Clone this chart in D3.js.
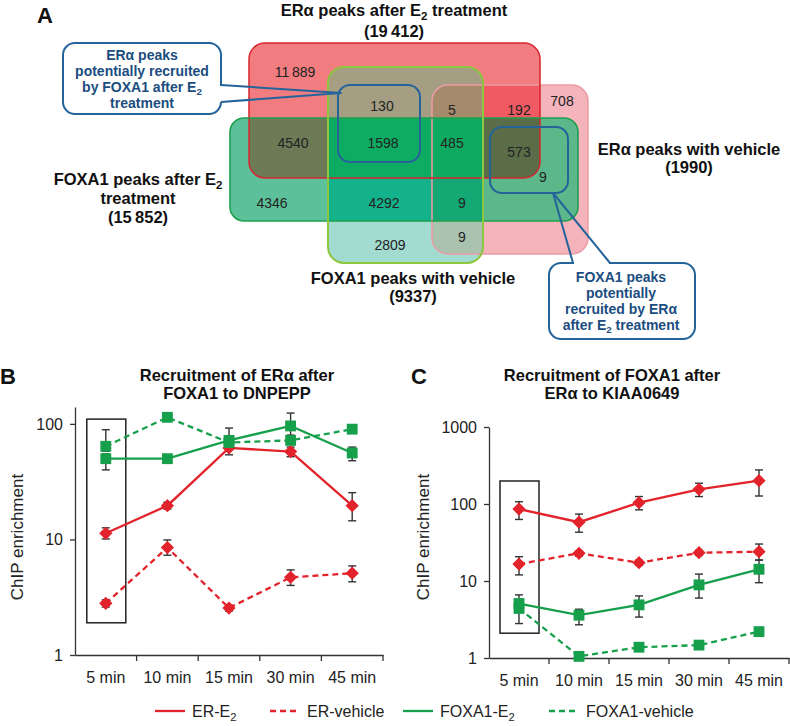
<!DOCTYPE html>
<html>
<head>
<meta charset="utf-8">
<script src="https://cdn.jsdelivr.net/npm/d3@7"></script>
<style>
  body { margin: 0; background: #fff; }
  svg { font-family: "Liberation Sans", Arial, sans-serif; }
</style>
</head>
<body>
<script>
// ---- data ----
var times = ['5 min', '10 min', '15 min', '30 min', '45 min'];
var seriesNames = ['ER-E_2', 'ER-vehicle', 'FOXA1-E_2', 'FOXA1-vehicle'];

// panel B: recruitment of ERa after FOXA1 to DNPEPP
var bErE2 = [11.3, 19.6, 62, 57.6, 19.6];
var bErE2Lo = [10.1, 18.3, 54, 52, 14.5];
var bErE2Hi = [12.6, 21, 66, 63, 25.4];
var bErVeh = [2.8, 8.5, 2.55, 4.7, 5.1];
var bErVehLo = [2.6, 7.3, 2.4, 4.0, 4.3];
var bErVehHi = [3.0, 9.9, 2.7, 5.45, 5.9];
var bFoxE2 = [50, 50, 72, 96, 56];
var bFoxE2Lo = [40, 48, 60, 80, 48];
var bFoxE2Hi = [55, 52, 92, 124, 63];
var bFoxVeh = [64, 114, 69, 72, 90];
var bFoxVehLo = [58, 110, 66, 69, 87];
var bFoxVehHi = [89, 118, 72, 75, 94];

// panel C: recruitment of FOXA1 after ERa to KIAA0649
var cErE2 = [86, 58, 104, 155, 201];
var cErE2Lo = [63, 43, 84, 125, 127];
var cErE2Hi = [107, 74, 125, 186, 277];
var cErVeh = [16.6, 22.9, 17.3, 23.3, 24];
var cErVehLo = [12, 21, 16, 21.5, 18.7];
var cErVehHi = [20.7, 24.5, 18.5, 25, 30.2];
var cFoxE2 = [5.1, 3.6, 4.9, 8.9, 14.2];
var cFoxE2Lo = [2.8, 2.7, 3.4, 6.0, 9.5];
var cFoxE2Hi = [6.6, 4.3, 6.4, 12.3, 18.7];
var cFoxVeh = [4.4, 1.05, 1.38, 1.47, 2.2];

// panel A: Venn counts
var vennSetNames = ['ERα peaks after E_2 treatment', 'FOXA1 peaks after E_2 treatment', 'FOXA1 peaks with vehicle', 'ERα peaks with vehicle'];
var vennSetTotals = [19412, 15852, 9337, 1990];
var vennRegionCounts = [11889, 130, 5, 192, 708, 4540, 1598, 485, 573, 9, 4346, 4292, 9, 2809, 9];

// ---- layout ----
var vennLabelPos = [[295, 72], [382, 106], [452, 110], [519, 110], [562, 101], [293, 143], [383, 143],
  [452, 143], [519, 152], [543, 177], [272, 203], [384, 203], [462, 203], [390, 245], [462, 237]];
var vennRects = {
  pink: { x: 432, y: 85, w: 156, h: 169, r: 16 },
  red: { x: 249, y: 43, w: 291, h: 135, r: 16 },
  lg: { x: 328, y: 67, w: 155, h: 196, r: 16 },
  dg: { x: 230, y: 118, w: 348, h: 103, r: 14 }
};
var red = '#e3232b', green = '#17a04c', blue = '#24649b', axisCol = '#333';

var svg = d3.select('body').append('svg').attr('width', 790).attr('height', 726);

function fmtCount(n) {
  return n >= 10000 ? d3.format(',')(n).replace(',', '\u2009') : String(n);
}

// text with "_2" subscripts
function richText(sel, str, fs) {
  var parts = str.split('_2');
  parts.forEach(function(p, i) {
    if (i > 0) {
      sel.append('tspan').attr('dy', fs * 0.22).style('font-size', (fs * 0.7) + 'px').text('2');
      sel.append('tspan').attr('dy', -fs * 0.22).text(p);
    } else {
      sel.append('tspan').text(p);
    }
  });
  return sel;
}

function addText(g, str, x, y, fs, weight, anchor, fill) {
  var t = g.append('text').attr('x', x).attr('y', y)
    .style('font-size', fs + 'px').style('font-weight', weight || 'normal')
    .attr('text-anchor', anchor || 'middle').attr('fill', fill || '#111');
  return richText(t, str, fs);
}

// ---- panel letters ----
addText(svg, 'A', 37, 23, 22, 'bold', 'start');
addText(svg, 'B', 0, 384, 22, 'bold', 'start');
addText(svg, 'C', 411, 384, 22, 'bold', 'start');

// ---- panel A : Venn ----
var venn = svg.append('g');
var defs = svg.append('defs');
Object.keys(vennRects).forEach(function(k) {
  var r = vennRects[k];
  defs.append('clipPath').attr('id', 'clip-' + k).append('rect')
    .attr('x', r.x).attr('y', r.y).attr('width', r.w).attr('height', r.h).attr('rx', r.r);
});

function paintRegion(base, clips, color) {
  var g = venn;
  clips.forEach(function(c) { g = g.append('g').attr('clip-path', 'url(#clip-' + c + ')'); });
  var r = vennRects[base];
  g.append('rect').attr('x', r.x).attr('y', r.y).attr('width', r.w).attr('height', r.h)
    .attr('rx', r.r).attr('fill', color);
}

paintRegion('pink', [], '#f5b4bb');
paintRegion('red', [], '#f27d80');
paintRegion('pink', ['red'], '#ef5a63');
paintRegion('lg', [], '#a2dbd0');
paintRegion('lg', ['red'], '#a59e83');
paintRegion('lg', ['pink'], '#a9c3ae');
paintRegion('lg', ['red', 'pink'], '#a58a6c');
paintRegion('dg', [], '#5cc09a');
paintRegion('dg', ['red'], '#6c7a55');
paintRegion('dg', ['pink'], '#5cb88a');
paintRegion('dg', ['red', 'pink'], '#5b6c48');
paintRegion('dg', ['lg'], '#13b28a');
paintRegion('dg', ['lg', 'red'], '#0eac62');
paintRegion('dg', ['lg', 'pink'], '#14a874');
paintRegion('dg', ['lg', 'red', 'pink'], '#0eaa60');

var strokes = [['pink', '#ee9aa4', 1.5], ['red', '#d9252e', 1.5], ['dg', '#1ea04e', 1.6], ['lg', '#8dc63f', 2]];
strokes.forEach(function(s) {
  var r = vennRects[s[0]];
  venn.append('rect').attr('x', r.x).attr('y', r.y).attr('width', r.w).attr('height', r.h)
    .attr('rx', r.r).attr('fill', 'none').attr('stroke', s[1]).attr('stroke-width', s[2]);
});

venn.selectAll('text.count').data(vennRegionCounts).enter().append('text')
  .attr('class', 'count')
  .attr('x', function(d, i) { return vennLabelPos[i][0]; })
  .attr('y', function(d, i) { return vennLabelPos[i][1]; })
  .attr('dy', '0.35em').attr('text-anchor', 'middle')
  .style('font-size', '14px').attr('fill', '#222')
  .text(fmtCount);

// inner blue boxes
venn.append('rect').attr('x', 338).attr('y', 85).attr('width', 82).attr('height', 77).attr('rx', 12)
  .attr('fill', 'none').attr('stroke', blue).attr('stroke-width', 2);
venn.append('rect').attr('x', 490).attr('y', 127).attr('width', 78).attr('height', 66).attr('rx', 12)
  .attr('fill', 'none').attr('stroke', blue).attr('stroke-width', 2);

// callout 1
venn.append('rect').attr('x', 63).attr('y', 43).attr('width', 158).attr('height', 71).attr('rx', 12)
  .attr('fill', '#fff').attr('stroke', blue).attr('stroke-width', 2);
venn.append('rect').attr('x', 219).attr('y', 86).attr('width', 4).attr('height', 16).attr('fill', '#fff');
venn.append('path').attr('d', 'M221,85L341,93L221,102').attr('fill', 'none')
  .attr('stroke', blue).attr('stroke-width', 2).attr('stroke-linejoin', 'round');
var call1 = ['ERα peaks', 'potentially recruited', 'by FOXA1 after E_2', 'treatment'];
call1.forEach(function(l, i) { addText(venn, l, 142, 60 + i * 16, 14, 'bold', 'middle', '#1b4d80'); });

// callout 2
venn.append('rect').attr('x', 549).attr('y', 263).attr('width', 146).attr('height', 76).attr('rx', 12)
  .attr('fill', '#fff').attr('stroke', blue).attr('stroke-width', 2);
venn.append('rect').attr('x', 574).attr('y', 261).attr('width', 35).attr('height', 4).attr('fill', '#fff');
venn.append('path').attr('d', 'M573,263L553,193L610,263').attr('fill', 'none')
  .attr('stroke', blue).attr('stroke-width', 2).attr('stroke-linejoin', 'round');
var call2 = ['FOXA1 peaks', 'potentially', 'recruited by ERα', 'after E_2 treatment'];
call2.forEach(function(l, i) { addText(venn, l, 621, 282 + i * 16, 14, 'bold', 'middle', '#1b4d80'); });

// set headers
var hdr = 16.5;
addText(venn, vennSetNames[0], 394, 16, hdr, 'bold');
addText(venn, '(' + fmtCount(vennSetTotals[0]) + ')', 394, 37, hdr, 'bold');
addText(venn, 'FOXA1 peaks after E_2', 138, 185, hdr, 'bold');
addText(venn, 'treatment', 138, 204, hdr, 'bold');
addText(venn, '(' + fmtCount(vennSetTotals[1]) + ')', 138, 223, hdr, 'bold');
addText(venn, vennSetNames[2], 413, 284, hdr, 'bold');
addText(venn, '(' + fmtCount(vennSetTotals[2]) + ')', 413, 302, hdr, 'bold');
addText(venn, vennSetNames[3], 689, 155, hdr, 'bold');
addText(venn, '(' + fmtCount(vennSetTotals[3]) + ')', 689, 173, hdr, 'bold');

// ---- panels B and C ----
function makeSeries(vals, lo, hi) {
  return [
    { name: seriesNames[0], v: vals[0], lo: lo[0], hi: hi[0], color: red, dash: null, shape: 'diamond' },
    { name: seriesNames[1], v: vals[1], lo: lo[1], hi: hi[1], color: red, dash: '6,4', shape: 'diamond' },
    { name: seriesNames[3], v: vals[3], lo: lo[3], hi: hi[3], color: green, dash: '6,4', shape: 'square' },
    { name: seriesNames[2], v: vals[2], lo: lo[2], hi: hi[2], color: green, dash: null, shape: 'square' }
  ];
}

function drawPanel(p) {
  var g = svg.append('g');
  var x = p.x, y = p.y, bw = x.bandwidth();
  var cx = function(i) { return x(times[i]) + bw / 2; };

  // y axis
  var ya = g.append('g').attr('transform', 'translate(' + x.range()[0] + ',0)')
    .call(d3.axisLeft(y).tickValues(p.yTicks).tickFormat(d3.format('d')).tickSize(5).tickSizeOuter(0).tickPadding(7));
  // x axis
  var xa = g.append('g').attr('transform', 'translate(0,' + y.range()[0] + ')')
    .call(d3.axisBottom(x).tickSize(0).tickSizeOuter(0).tickPadding(17));
  xa.selectAll('line.bound').data(times).enter().append('line').attr('class', 'bound')
    .attr('x1', function(d) { return x(d) + bw; }).attr('x2', function(d) { return x(d) + bw; })
    .attr('y1', 0).attr('y2', 6);
  [ya, xa].forEach(function(a) {
    a.selectAll('path, line').attr('stroke', axisCol).attr('stroke-width', 1.3);
    a.selectAll('text').style('font-size', '16px').attr('fill', '#222');
  });

  // y label
  g.append('text').attr('transform', 'translate(' + p.ylabX + ',537) rotate(-90)')
    .attr('text-anchor', 'middle').attr('dy', '0.35em').style('font-size', '17px').attr('fill', '#222')
    .text('ChIP enrichment');

  // title
  p.title.forEach(function(l, i) { addText(g, l, p.titleX, 381 + i * 18, 16.5, 'bold'); });

  // highlight box around first time point
  g.append('rect').attr('x', cx(0) - 19).attr('y', y(p.box[1]))
    .attr('width', 39).attr('height', y(p.box[0]) - y(p.box[1]))
    .attr('fill', 'none').attr('stroke', '#222').attr('stroke-width', 1.5);

  // error bars
  p.series.forEach(function(s) {
    if (!s.lo) return;
    s.v.forEach(function(v, i) {
      var eg = g.append('g').attr('stroke', axisCol).attr('stroke-width', 1.4);
      eg.append('line').attr('x1', cx(i)).attr('x2', cx(i)).attr('y1', y(s.lo[i])).attr('y2', y(s.hi[i]));
      eg.append('line').attr('x1', cx(i) - 4).attr('x2', cx(i) + 4).attr('y1', y(s.lo[i])).attr('y2', y(s.lo[i]));
      eg.append('line').attr('x1', cx(i) - 4).attr('x2', cx(i) + 4).attr('y1', y(s.hi[i])).attr('y2', y(s.hi[i]));
    });
  });

  // lines + markers
  var line = d3.line().x(function(d, i) { return cx(i); }).y(function(d) { return y(d); });
  p.series.forEach(function(s) {
    g.append('path').datum(s.v).attr('d', line).attr('fill', 'none')
      .attr('stroke', s.color).attr('stroke-width', 2.3).attr('stroke-dasharray', s.dash);
    g.selectAll(null).data(s.v).enter().append('path')
      .attr('d', d3.symbol().type(d3.symbolSquare).size(s.shape === 'diamond' ? 88 : 118))
      .attr('transform', function(d, i) {
        return 'translate(' + cx(i) + ',' + y(d) + ')' + (s.shape === 'diamond' ? ' rotate(45)' : '');
      })
      .attr('fill', s.color);
  });
}

drawPanel({
  x: d3.scaleBand().domain(times).range([75, 383]),
  y: d3.scaleLog().domain([1, 140]).range([655, 407]),
  yTicks: [1, 10, 100],
  ylabX: 17,
  title: ['Recruitment of ERα after', 'FOXA1 to DNPEPP'],
  titleX: 237,
  box: [1.9, 110],
  series: makeSeries([bErE2, bErVeh, bFoxE2, bFoxVeh], [bErE2Lo, bErVehLo, bFoxE2Lo, bFoxVehLo],
    [bErE2Hi, bErVehHi, bFoxE2Hi, bFoxVehHi])
});

drawPanel({
  x: d3.scaleBand().domain(times).range([489, 789]),
  y: d3.scaleLog().domain([1, 1000]).range([658, 427]),
  yTicks: [1, 10, 100, 1000],
  ylabX: 423,
  title: ['Recruitment of FOXA1 after', 'ERα to KIAA0649'],
  titleX: 612,
  box: [2.1, 199],
  series: makeSeries([cErE2, cErVeh, cFoxE2, cFoxVeh], [cErE2Lo, cErVehLo, cFoxE2Lo, null],
    [cErE2Hi, cErVehHi, cFoxE2Hi, null])
});

// ---- legend ----
var legendX = [155, 270, 403, 549];
var legendStyle = [[red, null], [red, '6,4'], [green, null], [green, '6,4']];
var legend = svg.append('g');
seriesNames.forEach(function(n, i) {
  legend.append('line').attr('x1', legendX[i]).attr('x2', legendX[i] + 30).attr('y1', 711).attr('y2', 711)
    .attr('stroke', legendStyle[i][0]).attr('stroke-width', 2.3).attr('stroke-dasharray', legendStyle[i][1]);
  addText(legend, n, legendX[i] + 37, 717, 16, 'normal', 'start', '#222');
});
</script>
</body>
</html>
